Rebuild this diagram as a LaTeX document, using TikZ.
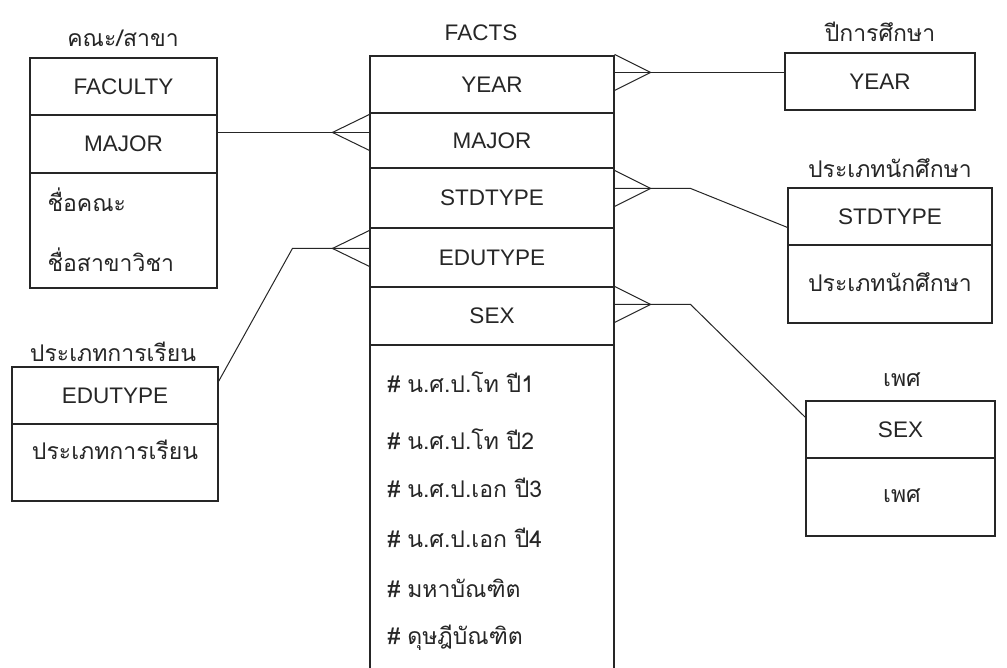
\documentclass[tikz,border=0pt]{standalone}
\usepackage{fontspec}
\setmainfont{Liberation Sans}
\newfontfamily\thai[Script=Thai]{Loma}
\usetikzlibrary{calc}
\definecolor{ink}{HTML}{262626}
\begin{document}
\begin{tikzpicture}[x=1pt,y=-1pt, line width=1.1pt, draw=ink, text=ink,
  row/.style={draw, rectangle, inner sep=0pt, font=\fontsize{22.5}{26}\selectfont},
  ttl/.style={font=\thai\fontsize{23}{26}\selectfont, inner sep=0pt},
  attr/.style={font=\thai\fontsize{23}{26}\selectfont, inner sep=0pt, anchor=west},
  ctr/.style={font=\thai\fontsize{23}{26}\selectfont, inner sep=0pt},
  conn/.style={line width=1pt}]
\useasboundingbox[fill=white] (0,0) rectangle (1007,668);

% ---- left top: faculty/major
\node[ttl] (tfac) at (123,38) {คณะ/สาขา};
\node[row, minimum width=187pt, minimum height=57pt] (fac) at (123.5,86.5) {FACULTY};
\node[row, minimum width=187pt, minimum height=58pt] (lmaj) at (123.5,144) {MAJOR};
\node[row, minimum width=187pt, minimum height=115pt] (lattr) at (123.5,230.5) {};
\node[attr] (la1) at (47,200) {ชื่อคณะ};
\node[attr] (la2) at (47,260) {ชื่อสาขาวิชา};

% ---- left bottom: edutype
\node[ttl] (tedu) at (113,352) {ประเภทการเรียน};
\node[row, minimum width=206pt, minimum height=57pt] (ledu) at (115,395.5) {EDUTYPE};
\node[row, minimum width=206pt, minimum height=77pt] (leduattr) at (115,462.5) {};
\node[ctr] (lea1) at (115,450) {ประเภทการเรียน};

% ---- facts
\node[font=\fontsize{22.5}{26}\selectfont, inner sep=0pt] (tfacts) at (481,33) {FACTS};
\node[row, minimum width=244pt, minimum height=57pt] (fyear) at (492,84.5) {YEAR};
\node[row, minimum width=244pt, minimum height=55pt] (fmaj) at (492,140.5) {MAJOR};
\node[row, minimum width=244pt, minimum height=60pt] (fstd) at (492,198) {STDTYPE};
\node[row, minimum width=244pt, minimum height=59pt] (fedu) at (492,257.5) {EDUTYPE};
\node[row, minimum width=244pt, minimum height=58pt] (fsex) at (492,316) {SEX};
\node[row, minimum width=244pt, minimum height=355pt] (fattr) at (492,522.5) {};
\draw[line width=1.8pt] (fedu.north west) -- (fedu.north east);
\node[attr] (fa1) at (387,382) {\#\kern7pt น.ศ.ป.โท ปี1};
\node[attr] (fa2) at (387,439) {\#\kern7pt น.ศ.ป.โท ปี2};
\node[attr] (fa3) at (387,488) {\#\kern7pt น.ศ.ป.เอก ปี3};
\node[attr] (fa4) at (387,538) {\#\kern7pt น.ศ.ป.เอก ปี4};
\node[attr] (fa5) at (387,588) {\#\kern7pt มหาบัณฑิต};
\node[attr] (fa6) at (387,638) {\#\kern7pt ดุษฎีบัณฑิต};

% ---- right: year
\node[ttl] (tyear) at (880,32) {ปีการศึกษา};
\node[row, minimum width=190pt, minimum height=57pt] (ryear) at (880,81.5) {YEAR};

% ---- right: stdtype
\node[ttl] (tstd) at (890,168) {ประเภทนักศึกษา};
\node[row, minimum width=204pt, minimum height=57pt] (rstd) at (890,216.5) {STDTYPE};
\node[row, minimum width=204pt, minimum height=78pt] (rstdattr) at (890,284) {};
\node[ctr] (rsa1) at (890,282) {ประเภทนักศึกษา};

% ---- right: sex
\node[ttl] (tsex) at (902,380) {เพศ};
\node[row, minimum width=189pt, minimum height=57pt] (rsex) at (900.5,429.5) {SEX};
\node[row, minimum width=189pt, minimum height=78pt] (rsexattr) at (900.5,497) {};
\node[ctr] (rsx1) at (902,496) {เพศ};

% ---- connectors with crow's feet
% MAJOR
\coordinate (c1) at ($(fmaj.north west)+(0,20)$);
\coordinate (t1) at ($(c1)+(-37,0)$);
\draw[conn] (lmaj.east |- c1) -- (t1) -- (c1);
\draw[conn] ($(c1)+(0,-18)$) -- (t1) -- ($(c1)+(0,18)$);
% EDUTYPE
\coordinate (c2) at ($(fedu.north west)+(0,21)$);
\coordinate (t2) at ($(c2)+(-37,0)$);
\coordinate (e2) at ($(ledu.north east)+(0,15)$);
\draw[conn] (e2) -- ($(t2)+(-40,0)$) -- (t2) -- (c2);
\draw[conn] ($(c2)+(0,-18)$) -- (t2) -- ($(c2)+(0,18)$);
% YEAR
\coordinate (c3) at ($(fyear.north east)+(0,17)$);
\coordinate (t3) at ($(c3)+(36,0)$);
\draw[conn] (c3) -- (t3) -- (ryear.west |- t3);
\draw[conn] ($(c3)+(0,-18)$) -- (t3) -- ($(c3)+(0,18)$);
% STDTYPE
\coordinate (c4) at ($(fstd.north east)+(0,21)$);
\coordinate (t4) at ($(c4)+(36,0)$);
\coordinate (e4) at ($(rstd.north west)+(0,40)$);
\draw[conn] (c4) -- (t4) -- ($(t4)+(40,0)$) -- (e4);
\draw[conn] ($(c4)+(0,-18)$) -- (t4) -- ($(c4)+(0,18)$);
% SEX
\coordinate (c5) at ($(fsex.north east)+(0,18)$);
\coordinate (t5) at ($(c5)+(36,0)$);
\coordinate (e5) at ($(rsex.north west)+(0,17)$);
\draw[conn] (c5) -- (t5) -- ($(t5)+(40,0)$) -- (e5);
\draw[conn] ($(c5)+(0,-18)$) -- (t5) -- ($(c5)+(0,18)$);
\end{tikzpicture}
\end{document}
